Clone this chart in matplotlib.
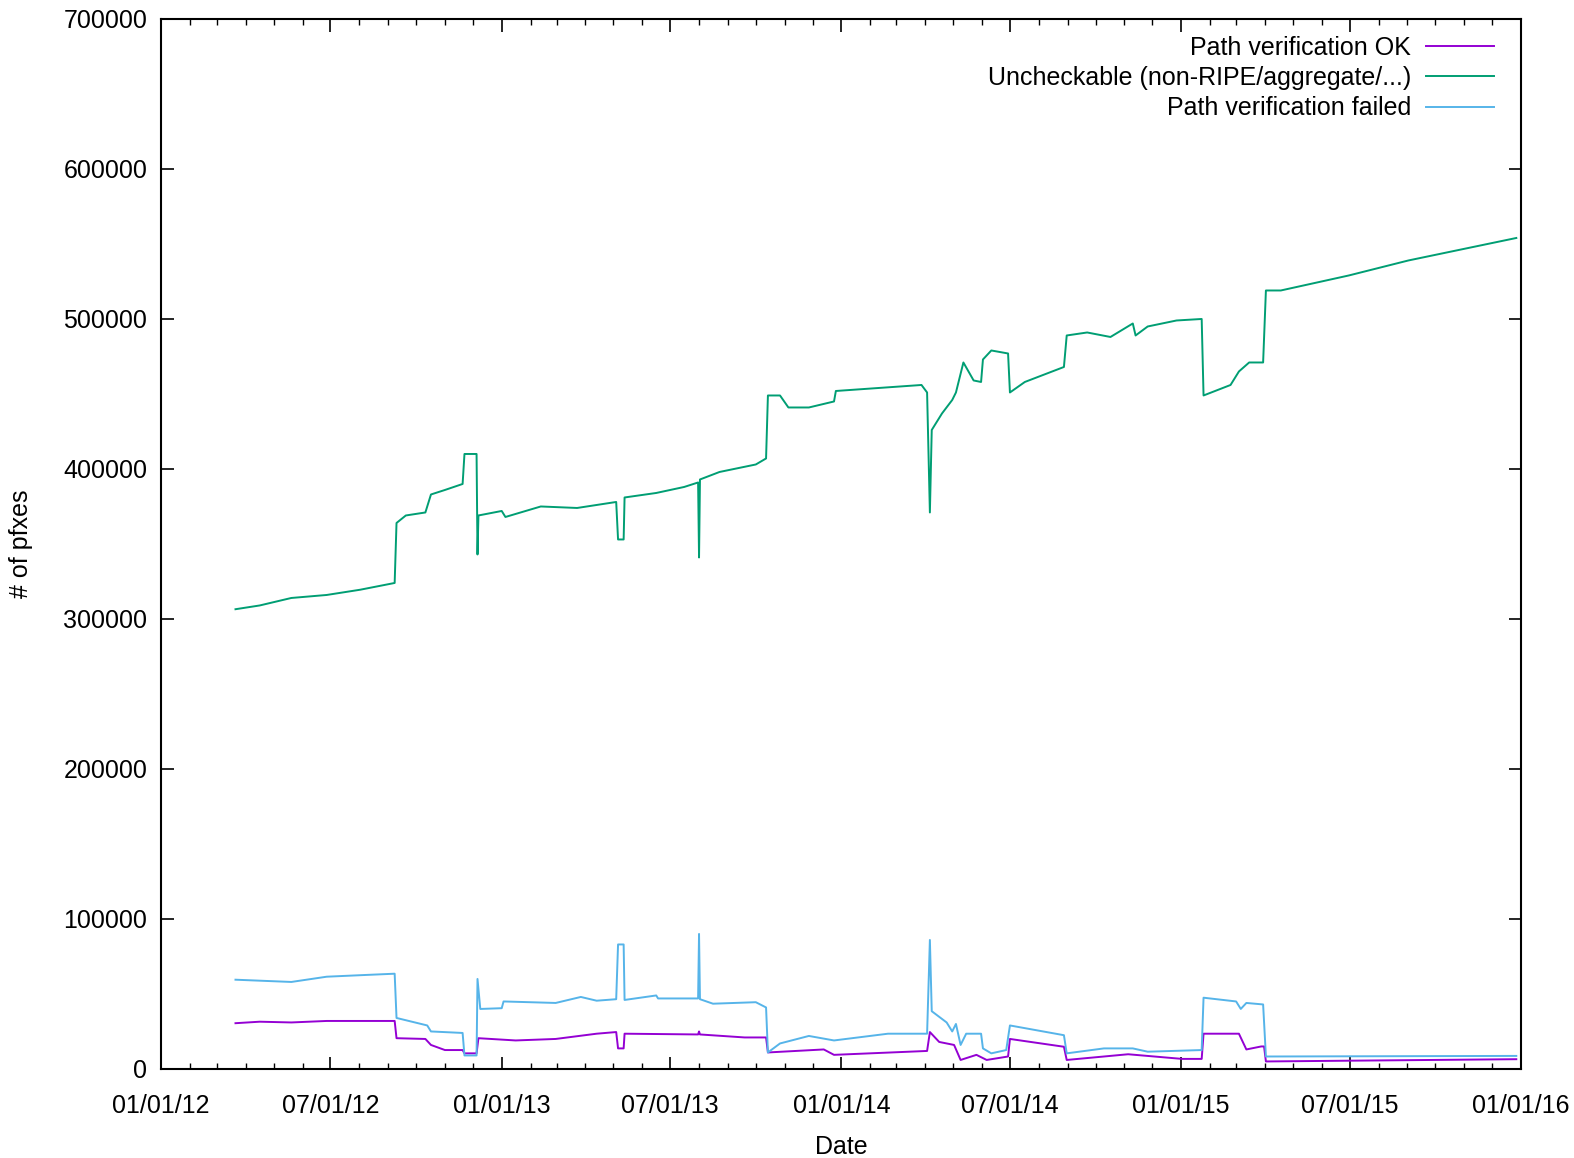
import pandas as pd
import matplotlib
matplotlib.use('Agg')
import matplotlib.pyplot as plt
import matplotlib.dates as mdates
from matplotlib.ticker import FuncFormatter

plt.rcParams['font.family'] = ['Liberation Sans', 'DejaVu Sans']

# Path verification OK
ok_dates = ['2012-03-21', '2012-04-16', '2012-05-20', '2012-06-27', '2012-09-08', '2012-09-10',
            '2012-10-11', '2012-10-17', '2012-11-01', '2012-11-20', '2012-11-22', '2012-12-05',
            '2012-12-07', '2013-01-16', '2013-02-28', '2013-04-13', '2013-05-04', '2013-05-06',
            '2013-05-12', '2013-05-13', '2013-07-31', '2013-08-01', '2013-08-02', '2013-09-19',
            '2013-10-12', '2013-10-14', '2013-12-13', '2013-12-24', '2014-04-03', '2014-04-06',
            '2014-04-16', '2014-05-02', '2014-05-09', '2014-05-26', '2014-06-06', '2014-06-29',
            '2014-07-01', '2014-08-28', '2014-08-31', '2014-10-10', '2014-11-05', '2015-01-02',
            '2015-01-23', '2015-01-25', '2015-03-04', '2015-03-12', '2015-03-28', '2015-03-31',
            '2015-04-02', '2015-12-27']
ok_vals = [30500, 31500, 31000, 32000, 32000, 20500,
           20000, 16000, 12600, 12600, 10400, 10400,
           20500, 19000, 20000, 23500, 24600, 13700,
           13700, 23500, 23000, 25000, 23000, 21000,
           21000, 11000, 13000, 9400, 12000, 24600,
           18000, 16000, 6000, 9400, 6000, 8300,
           20000, 14800, 6000, 8300, 9800, 6700,
           6700, 23500, 23500, 13000, 15000, 15000,
           5000, 6500]

# Uncheckable (non-RIPE/aggregate/...)
unchk_dates = ['2012-03-21', '2012-04-16', '2012-05-20', '2012-06-27', '2012-08-02', '2012-09-08',
               '2012-09-10', '2012-09-20', '2012-10-11', '2012-10-17', '2012-11-01', '2012-11-20',
               '2012-11-22', '2012-12-05', '2012-12-06', '2012-12-07', '2013-01-01', '2013-01-05',
               '2013-02-12', '2013-03-23', '2013-05-04', '2013-05-06', '2013-05-12', '2013-05-13',
               '2013-06-16', '2013-07-16', '2013-07-31', '2013-08-01', '2013-08-02', '2013-08-23',
               '2013-10-01', '2013-10-12', '2013-10-14', '2013-10-27', '2013-11-05', '2013-11-27',
               '2013-12-24', '2013-12-26', '2014-03-28', '2014-04-03', '2014-04-06', '2014-04-08',
               '2014-04-19', '2014-04-30', '2014-05-04', '2014-05-12', '2014-05-23', '2014-05-31',
               '2014-06-02', '2014-06-11', '2014-06-29', '2014-07-01', '2014-07-17', '2014-08-28',
               '2014-08-31', '2014-09-22', '2014-10-17', '2014-11-10', '2014-11-13', '2014-11-26',
               '2014-12-27', '2015-01-23', '2015-01-25', '2015-02-23', '2015-03-04', '2015-03-15',
               '2015-03-30', '2015-04-02', '2015-04-18', '2015-06-30', '2015-09-02', '2015-12-27']
unchk_vals = [306500, 309000, 314000, 316000, 319500, 324000,
              364000, 369000, 371000, 383000, 386000, 390000,
              410000, 410000, 343000, 369000, 372000, 368000,
              375000, 374000, 378000, 353000, 353000, 381000,
              384000, 388000, 391000, 341000, 393000, 398000,
              403000, 407000, 449000, 449000, 441000, 441000,
              445000, 452000, 456000, 451000, 371000, 426000,
              437000, 446000, 451000, 471000, 459000, 458000,
              473000, 479000, 477000, 451000, 458000, 468000,
              489000, 491000, 488000, 497000, 489000, 495000,
              499000, 500000, 449000, 456000, 465000, 471000,
              471000, 519000, 519000, 529000, 539000, 554000]

# Path verification failed
fail_dates = ['2012-03-21', '2012-05-20', '2012-06-27', '2012-08-02', '2012-09-08', '2012-09-10',
              '2012-10-13', '2012-10-17', '2012-11-20', '2012-11-22', '2012-12-05', '2012-12-06',
              '2012-12-09', '2013-01-01', '2013-01-03', '2013-02-28', '2013-03-27', '2013-04-13',
              '2013-05-04', '2013-05-06', '2013-05-12', '2013-05-13', '2013-06-16', '2013-06-18',
              '2013-07-31', '2013-08-01', '2013-08-02', '2013-08-16', '2013-10-01', '2013-10-12',
              '2013-10-14', '2013-10-27', '2013-11-27', '2013-12-24', '2014-02-20', '2014-04-03',
              '2014-04-06', '2014-04-08', '2014-04-24', '2014-04-30', '2014-05-04', '2014-05-09',
              '2014-05-15', '2014-05-31', '2014-06-02', '2014-06-11', '2014-06-27', '2014-07-01',
              '2014-08-28', '2014-08-31', '2014-10-10', '2014-11-10', '2014-11-26', '2015-01-23',
              '2015-01-25', '2015-03-01', '2015-03-06', '2015-03-12', '2015-03-30', '2015-04-02',
              '2015-12-27']
fail_vals = [59500, 58000, 61500, 62500, 63500, 34000,
             29000, 25000, 24000, 9000, 9000, 60000,
             40000, 40500, 45000, 44000, 48000, 45500,
             46500, 83000, 83000, 46000, 49000, 47000,
             47000, 90000, 46500, 43500, 44500, 41000,
             11000, 17000, 22000, 19000, 23500, 23500,
             86000, 38500, 31000, 25000, 30000, 16000,
             23500, 23500, 13700, 10400, 12600, 29000,
             22500, 10400, 13700, 13700, 11500, 12600,
             47500, 45000, 40000, 44000, 43000, 8300,
             8700]

fig = plt.figure(figsize=(15.74, 11.58), dpi=100)
ax = fig.add_axes([0.1023, 0.0769, 0.8640, 0.9067])

ax.plot(pd.to_datetime(ok_dates), ok_vals, color='#9400D3', lw=1.4, label='Path verification OK')
ax.plot(pd.to_datetime(unchk_dates), unchk_vals, color='#009E73', lw=1.4,
        label='Uncheckable (non-RIPE/aggregate/...)')
ax.plot(pd.to_datetime(fail_dates), fail_vals, color='#56B4E9', lw=1.4, label='Path verification failed')

ax.set_xlim(pd.Timestamp('2012-01-01'), pd.Timestamp('2016-01-01'))
ax.set_ylim(0, 700000)
ax.set_yticks(range(0, 700001, 100000))
ax.yaxis.set_major_formatter(FuncFormatter(lambda v, p: '%d' % v))
ax.xaxis.set_major_locator(mdates.MonthLocator(bymonth=[1, 7]))
ax.xaxis.set_minor_locator(mdates.MonthLocator())
ax.xaxis.set_major_formatter(mdates.DateFormatter('%m/%d/%y'))

ax.tick_params(which='both', direction='in', top=True, right=True, labelsize=18, colors='black')
ax.tick_params(which='major', length=9, width=1.2)
ax.tick_params(which='minor', length=4.5, width=1.0)
ax.tick_params(axis='x', pad=18)
ax.tick_params(axis='y', pad=10)
for s in ax.spines.values():
    s.set_linewidth(1.5)

ax.set_xlabel('Date', fontsize=18, labelpad=12)
ax.set_ylabel('# of pfxes', fontsize=18, labelpad=22)

ax.legend(loc='upper right', bbox_to_anchor=(0.980, 0.984), frameon=False, markerfirst=False,
          fontsize=18, handlelength=2.7, handletextpad=0.6, labelspacing=0.25,
          borderpad=0, borderaxespad=0)

fig.savefig('out.png', dpi=100)
